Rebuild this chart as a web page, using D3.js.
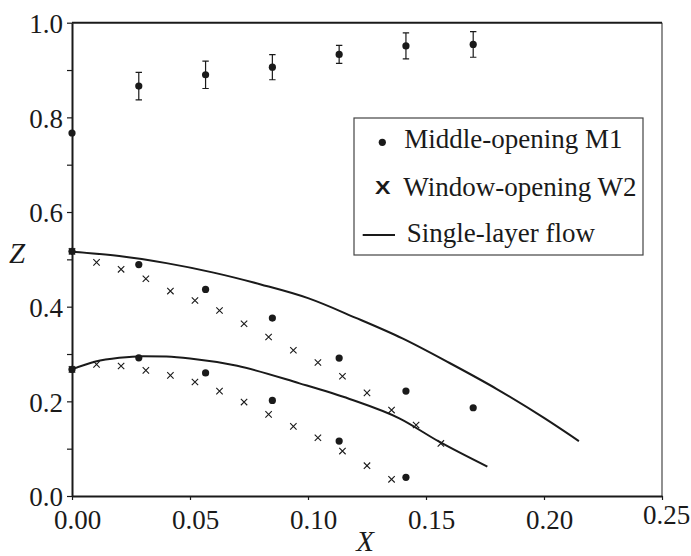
<!DOCTYPE html>
<html>
<head>
<meta charset="utf-8">
<script src="https://cdn.jsdelivr.net/npm/d3@7"></script>
<style>
  html, body { margin: 0; padding: 0; background: #fff; }
  svg { display: block; }
</style>
</head>
<body>
<svg id="chart" width="691" height="556"></svg>
<script>
// Tick labels
const xTickValues = [0, 0.05, 0.10, 0.15, 0.20, 0.25];
const xTickLabels = ["0.00", "0.05", "0.10", "0.15", "0.20", "0.25"];
const yTickValues = [0, 0.2, 0.4, 0.6, 0.8, 1.0];
const yTickLabels = ["0.0", "0.2", "0.4", "0.6", "0.8", "1.0"];
const yMinorValues = [0.1, 0.3, 0.5, 0.7, 0.9];

// Middle-opening M1 measurements
const m1X = [0, 0.0283, 0.0566, 0.0849, 0.1132, 0.1415, 0.170];
const m1Top = [0.767, 0.866, 0.890, 0.906, 0.933, 0.951, 0.954];
const m1TopErr = [0, 0.029, 0.029, 0.0265, 0.019, 0.0275, 0.027];
const m1Upper = [0.517, 0.489, 0.4365, 0.376, 0.2914, 0.2217, 0.1865];
const m1Lower = [0.2675, 0.292, 0.260, 0.202, 0.116, 0.0395];

// Window-opening W2 measurements
const w2X = [0, 0.0104, 0.0208, 0.0313, 0.0417, 0.0521, 0.0625, 0.0729, 0.0833,
             0.0938, 0.1042, 0.1146, 0.125, 0.1354, 0.1458, 0.1563];
const w2Upper = [0.517, 0.4935, 0.479, 0.459, 0.433, 0.413, 0.392, 0.364, 0.336,
                 0.308, 0.282, 0.253, 0.218, 0.1816, 0.150, 0.111];
const w2Lower = [0.2675, 0.278, 0.2746, 0.2654, 0.2549, 0.2408, 0.2217, 0.1985,
                 0.1725, 0.147, 0.123, 0.095, 0.064, 0.0353];

// Single-layer flow theory curves
const upperX = [0, 0.02, 0.04, 0.06, 0.08, 0.1, 0.12, 0.14, 0.16, 0.18, 0.2, 0.2148];
const upperZ = [0.516, 0.507, 0.492, 0.472, 0.447, 0.418, 0.377, 0.333, 0.281, 0.226, 0.165, 0.116];
const lowerX = [0, 0.01, 0.02, 0.03, 0.04, 0.05, 0.07, 0.0964, 0.1176, 0.1387, 0.1556, 0.176];
const lowerZ = [0.2675, 0.284, 0.292, 0.2955, 0.2945, 0.2905, 0.275, 0.238, 0.205, 0.164, 0.1147, 0.062];

const legendLabels = ["Middle-opening M1", "Window-opening W2", "Single-layer flow"];

const ink = "#1a1a1a";
const serif = "'Liberation Serif', 'Times New Roman', 'DejaVu Serif', serif";
const svg = d3.select("#chart");
const plot = { left: 72, right: 662, top: 22.7, bottom: 496 };

const x = d3.scaleLinear().domain([0, 0.25]).range([plot.left, plot.right]);
const y = d3.scaleLinear().domain([0, 1.0]).range([plot.bottom, plot.top]);

function serifText(sel, size) {
  return sel.attr("font-family", serif).style("font-family", serif)
    .attr("font-size", size).attr("fill", ink);
}

// Frame: top and right borders
svg.append("line")
  .attr("x1", plot.right).attr("x2", plot.right)
  .attr("y1", plot.top).attr("y2", plot.bottom)
  .attr("stroke", "#555").attr("stroke-width", 1.3);
svg.append("line")
  .attr("x1", plot.left).attr("x2", plot.right)
  .attr("y1", plot.top).attr("y2", plot.top)
  .attr("stroke", ink).attr("stroke-width", 2);

// Bottom axis
const xAxis = svg.append("g")
  .attr("transform", `translate(0,${plot.bottom})`)
  .call(d3.axisBottom(x).tickValues(xTickValues)
    .tickFormat((d, i) => xTickLabels[i]).tickSizeInner(4).tickSizeOuter(0).tickPadding(8));
xAxis.attr("font-family", serif);
xAxis.select(".domain").attr("stroke", ink).attr("stroke-width", 2);
xAxis.selectAll(".tick line").attr("stroke", ink).attr("stroke-width", 1.2);
serifText(xAxis.selectAll(".tick text"), 27).attr("dx", 5).attr("dy", "0.78em").attr("y", 12);
xAxis.selectAll(".tick text").filter((d, i) => i === xTickValues.length - 1)
  .attr("dx", 4).attr("y", 7);

// Left axis: minor ticks then labelled major ticks
const yMinor = svg.append("g")
  .attr("transform", `translate(${plot.left},0)`)
  .call(d3.axisLeft(y).tickValues(yMinorValues).tickFormat("").tickSizeInner(5).tickSizeOuter(0));
yMinor.select(".domain").remove();
yMinor.selectAll(".tick line").attr("stroke", ink).attr("stroke-width", 1.2);

const yAxis = svg.append("g")
  .attr("transform", `translate(${plot.left},0)`)
  .call(d3.axisLeft(y).tickValues(yTickValues)
    .tickFormat((d, i) => yTickLabels[i]).tickSizeInner(5).tickSizeOuter(0).tickPadding(4));
yAxis.attr("font-family", serif);
yAxis.select(".domain").attr("stroke", ink).attr("stroke-width", 2);
yAxis.selectAll(".tick line").attr("stroke", ink).attr("stroke-width", 1.2);
serifText(yAxis.selectAll(".tick text"), 27).attr("dy", "0.36em");

// Axis titles
serifText(svg.append("text"), 29)
  .attr("x", 9).attr("y", 263).attr("font-style", "italic").text("Z");
serifText(svg.append("text"), 29)
  .attr("x", 365).attr("y", 551).attr("text-anchor", "middle")
  .attr("font-style", "italic").text("X");

// Theory curves
const line = d3.line().x(d => x(d[0])).y(d => y(d[1])).curve(d3.curveMonotoneX);
[[upperX, upperZ], [lowerX, lowerZ]].forEach(([xs, zs]) => {
  svg.append("path")
    .datum(xs.map((v, i) => [v, zs[i]]))
    .attr("d", line)
    .attr("fill", "none").attr("stroke", ink).attr("stroke-width", 2);
});

// W2 crosses
const crossHalf = 3.2;
function drawCrosses(xs, zs) {
  const g = svg.append("g");
  zs.forEach((z, i) => {
    const cx = x(xs[i]), cy = y(z);
    g.append("path")
      .attr("d", `M${cx - crossHalf},${cy - crossHalf}L${cx + crossHalf},${cy + crossHalf}` +
                 `M${cx - crossHalf},${cy + crossHalf}L${cx + crossHalf},${cy - crossHalf}`)
      .attr("stroke", ink).attr("stroke-width", 1.1).attr("fill", "none");
  });
}
drawCrosses(w2X, w2Upper);
drawCrosses(w2X, w2Lower);

// M1 error bars
const capHalf = 3.2;
const errG = svg.append("g").attr("stroke", ink).attr("stroke-width", 1.2).attr("fill", "none");
m1Top.forEach((z, i) => {
  const e = m1TopErr[i];
  if (!e) return;
  const cx = x(m1X[i]), yHi = y(z + e), yLo = y(z - e);
  errG.append("path")
    .attr("d", `M${cx},${yHi}L${cx},${yLo}M${cx - capHalf},${yHi}L${cx + capHalf},${yHi}` +
               `M${cx - capHalf},${yLo}L${cx + capHalf},${yLo}`);
});

// M1 dots
function drawDots(xs, zs) {
  svg.append("g").selectAll("circle")
    .data(zs).join("circle")
    .attr("cx", (d, i) => x(xs[i])).attr("cy", d => y(d))
    .attr("r", 3.6).attr("fill", ink);
}
drawDots(m1X, m1Top);
drawDots(m1X, m1Upper);
drawDots(m1X, m1Lower);

// Legend
const lg = svg.append("g");
lg.append("rect")
  .attr("x", 354).attr("y", 118).attr("width", 289).attr("height", 137)
  .attr("fill", "#fff").attr("stroke", "#444").attr("stroke-width", 1.2);
lg.append("circle").attr("cx", 382.3).attr("cy", 142.3).attr("r", 3.6).attr("fill", ink);
lg.append("text")
  .attr("x", 375).attr("y", 194.3)
  .attr("font-family", "'Liberation Sans', Arial, sans-serif")
  .style("font-family", "'Liberation Sans', Arial, sans-serif")
  .attr("font-size", 17.5).attr("font-weight", "bold")
  .attr("textLength", 15.5).attr("lengthAdjust", "spacingAndGlyphs")
  .attr("fill", ink).text("X");
lg.append("line").attr("x1", 362.7).attr("x2", 395).attr("y1", 235).attr("y2", 235)
  .attr("stroke", ink).attr("stroke-width", 2);
const legendX = [404.3, 403.3, 406.7];
const legendBase = [148.3, 196, 241.7];
legendLabels.forEach((t, i) => {
  serifText(lg.append("text"), 27)
    .attr("x", legendX[i]).attr("y", legendBase[i]).text(t);
});
</script>
</body>
</html>
